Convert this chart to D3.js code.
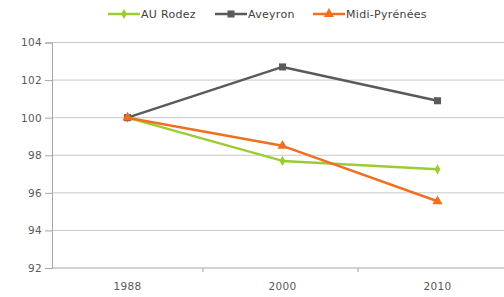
<!DOCTYPE html>
<html>
<head>
<meta charset="utf-8">
<script src="https://cdn.jsdelivr.net/npm/d3@7"></script>
<style>
  body { margin: 0; background: #fff; }
  svg { display: block; }
</style>
</head>
<body>
<svg id="chart" width="504" height="297"></svg>
<script>
// values
var years = ["1988", "2000", "2010"];
var auRodez = [100, 97.7, 97.25];
var aveyron = [100, 102.7, 100.9];
var midiPyrenees = [100, 98.5, 95.55];
var yTicks = [92, 94, 96, 98, 100, 102, 104];

var series = [
  {name: "AU Rodez", values: auRodez, color: "#9acd32", symbol: d3.symbolDiamond, size: 30},
  {name: "Aveyron", values: aveyron, color: "#5a5a5a", symbol: d3.symbolSquare, size: 50},
  {name: "Midi-Pyrénées", values: midiPyrenees, color: "#f07020", symbol: d3.symbolTriangle, size: 45}
];

var svg = d3.select("#chart");
var font = "'DejaVu Sans', Verdana, sans-serif";

var x = d3.scaleBand().domain(years).range([50, 515]);
var y = d3.scaleLinear().domain([92, 104]).range([268, 42.5]);

// gridlines
svg.append("g")
  .selectAll("line")
  .data(yTicks.slice(1))
  .enter().append("line")
    .attr("x1", 52).attr("x2", 504)
    .attr("y1", d => y(d)).attr("y2", d => y(d))
    .attr("stroke", "#c8c8c8").attr("stroke-width", 1);

// y axis
var yAxis = svg.append("g")
  .attr("transform", "translate(52,0)")
  .call(d3.axisLeft(y).tickValues(yTicks).tickSize(7).tickPadding(3));
yAxis.select(".domain").attr("stroke", "#a6a6a6");
yAxis.selectAll(".tick line").attr("stroke", "#a6a6a6");
yAxis.selectAll("text")
  .style("font-family", font).style("font-size", "10.5px")
  .style("letter-spacing", "0.3px").attr("fill", "#595959");

// x axis
var xAxis = svg.append("g")
  .attr("transform", "translate(0," + y(92) + ")")
  .call(d3.axisBottom(x).tickSize(0).tickPadding(15));
xAxis.select(".domain").attr("stroke", "#a6a6a6").attr("d", "M52,0H504");
xAxis.selectAll("text")
  .style("font-family", font).style("font-size", "10.5px")
  .style("letter-spacing", "0.3px").attr("fill", "#595959");
// ticks between categories
svg.append("g")
  .selectAll("line")
  .data(years.slice(1))
  .enter().append("line")
    .attr("x1", d => x(d) - 2).attr("x2", d => x(d) - 2)
    .attr("y1", y(92)).attr("y2", y(92) + 4)
    .attr("stroke", "#a6a6a6");

var line = d3.line()
  .x((d, i) => x(years[i]) + x.bandwidth() / 2)
  .y(d => y(d));

series.forEach(function(s) {
  svg.append("path")
    .datum(s.values)
    .attr("d", line)
    .attr("fill", "none")
    .attr("stroke", s.color)
    .attr("stroke-width", 2.5)
    .attr("stroke-linejoin", "round");

  svg.append("g")
    .selectAll("path")
    .data(s.values)
    .enter().append("path")
      .attr("transform", (d, i) => "translate(" + (x(years[i]) + x.bandwidth() / 2) + "," + y(d) + ")")
      .attr("d", d3.symbol().type(s.symbol).size(s.size))
      .attr("fill", s.color);
});

// legend
var legendX = [108, 215, 313];
var legend = svg.append("g");
series.forEach(function(s, i) {
  var g = legend.append("g").attr("transform", "translate(" + legendX[i] + ",14)");
  g.append("line")
    .attr("x1", 0).attr("x2", 32)
    .attr("stroke", s.color).attr("stroke-width", 2.5);
  g.append("path")
    .attr("transform", "translate(16,0)")
    .attr("d", d3.symbol().type(s.symbol).size(s.size))
    .attr("fill", s.color);
  g.append("text")
    .attr("x", 33).attr("dy", "0.35em")
    .style("font-family", font).style("font-size", "11px")
    .style("letter-spacing", "0.3px")
    .attr("fill", "#404040")
    .text(s.name);
});
</script>
</body>
</html>
